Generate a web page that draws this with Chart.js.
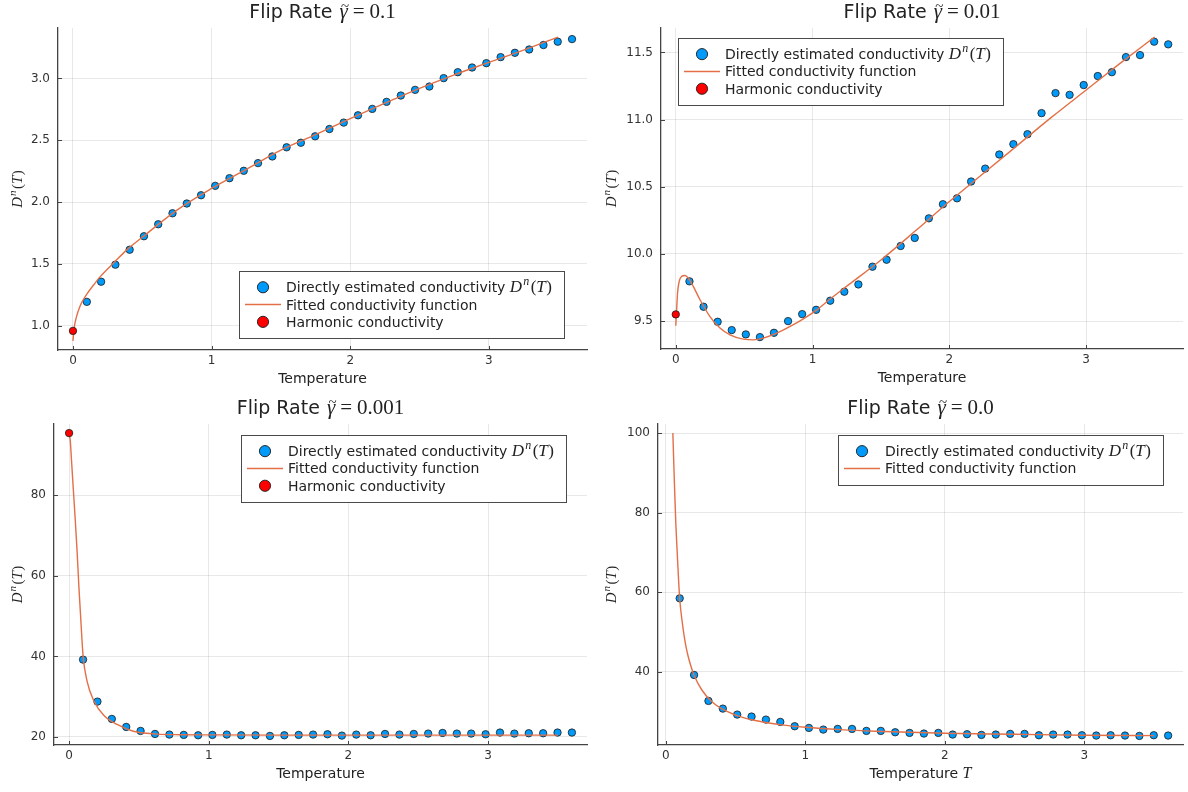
<!DOCTYPE html>
<html lang="en">
<head>
<meta charset="UTF-8">
<title>Conductivity vs temperature for four flip rates</title>
<script src="https://cdn.jsdelivr.net/npm/chart.js"></script>
<style>
  body { margin: 0; background: #fff; }
  .grid {
    display: grid;
    grid-template-columns: 594px 594px;
    grid-template-rows: 396px 396px;
    width: 1188px;
    height: 792px;
  }
  .grid canvas { display: block; }
</style>
</head>
<body>
<div class="grid">
  <canvas id="c1" width="594" height="396"></canvas>
  <canvas id="c2" width="594" height="396"></canvas>
  <canvas id="c3" width="594" height="396"></canvas>
  <canvas id="c4" width="594" height="396"></canvas>
</div>

<script>
// temperatures of the directly estimated points (same in every panel)
const temps = [0.1, 0.203, 0.306, 0.409, 0.512, 0.615, 0.718, 0.821, 0.924, 1.026,
  1.129, 1.232, 1.335, 1.438, 1.541, 1.644, 1.747, 1.85, 1.953, 2.056,
  2.159, 2.262, 2.365, 2.468, 2.571, 2.674, 2.776, 2.879, 2.982, 3.085,
  3.188, 3.291, 3.394, 3.497, 3.6];
const harmonicT = [0];
const xTicks = [0, 1, 2, 3];
const xTickLabels = ['0', '1', '2', '3'];

// flip rate 0.1
const direct01 = [1.192, 1.355, 1.493, 1.614, 1.723, 1.820, 1.909, 1.988, 2.055, 2.131,
  2.193, 2.253, 2.315, 2.369, 2.443, 2.480, 2.532, 2.591, 2.643, 2.702,
  2.754, 2.811, 2.862, 2.908, 2.935, 3.003, 3.051, 3.089, 3.124, 3.173,
  3.208, 3.235, 3.271, 3.298, 3.319];
const harmonic01 = [0.957];
const fitT01 = [0, 0.01, 0.025, 0.05, 0.075, 0.1, 0.15, 0.2, 0.3, 0.4, 0.5, 0.75,
  1.0, 1.25, 1.5, 1.75, 2.0, 2.25, 2.5, 2.75, 3.0, 3.25, 3.5];
const fit01 = [0.876, 0.99, 1.07, 1.155, 1.21, 1.255, 1.33, 1.40, 1.515, 1.625, 1.715, 1.935,
  2.11, 2.265, 2.42, 2.545, 2.675, 2.80, 2.92, 3.03, 3.13, 3.23, 3.335];
const yTicks01 = [1.0, 1.5, 2.0, 2.5, 3.0];
const yTickLabels01 = ['1.0', '1.5', '2.0', '2.5', '3.0'];

// flip rate 0.01
const direct001 = [9.796, 9.607, 9.495, 9.433, 9.401, 9.381, 9.413, 9.500, 9.552, 9.584,
  9.652, 9.719, 9.773, 9.905, 9.957, 10.059, 10.119, 10.265, 10.370, 10.414,
  10.539, 10.635, 10.740, 10.817, 10.891, 11.048, 11.197, 11.184, 11.257, 11.324,
  11.353, 11.465, 11.480, 11.580, 11.560];
const harmonic001 = [9.550];
const fitT001 = [0, 0.005, 0.013, 0.025, 0.043, 0.067, 0.091, 0.128, 0.177, 0.25,
  0.323, 0.396, 0.494, 0.567, 0.64, 0.738, 0.836, 0.933, 1.031, 1.128,
  1.25, 1.5, 1.75, 2.0, 2.25, 2.5, 2.75, 3.0, 3.25, 3.5];
const fit001 = [9.465, 9.56, 9.709, 9.796, 9.833, 9.84, 9.821, 9.758, 9.659, 9.534,
  9.448, 9.398, 9.366, 9.36, 9.373, 9.41, 9.46, 9.517, 9.584, 9.664,
  9.76, 9.955, 10.17, 10.39, 10.60, 10.81, 11.02, 11.22, 11.42, 11.614];
const yTicks001 = [9.5, 10.0, 10.5, 11.0, 11.5];
const yTickLabels001 = ['9.5', '10.0', '10.5', '11.0', '11.5'];

// flip rate 0.001
const direct0001 = [39.20, 28.77, 24.47, 22.48, 21.49, 20.74, 20.58, 20.50, 20.41, 20.50,
  20.58, 20.41, 20.41, 20.25, 20.41, 20.50, 20.58, 20.66, 20.33, 20.58,
  20.41, 20.74, 20.58, 20.74, 20.83, 20.99, 20.83, 20.83, 20.66, 21.08,
  20.83, 20.91, 20.91, 21.08, 21.08];
const harmonic0001 = [95.47];
const fitT0001 = [0, 0.008, 0.017, 0.029, 0.044, 0.058, 0.07, 0.084, 0.1, 0.129,
  0.177, 0.248, 0.344, 0.46, 0.63, 0.8, 1.0, 1.5, 2.0, 2.5, 3.0, 3.5];
const fit0001 = [94.8, 93.8, 88.9, 82.2, 74.0, 65.7, 57.4, 49.1, 40.2, 33.8,
  29.0, 25.4, 23.1, 21.4, 20.7, 20.55, 20.5, 20.45, 20.45, 20.45, 20.45, 20.45];
const yTicks0001 = [20, 40, 60, 80];
const yTickLabels0001 = ['20', '40', '60', '80'];

// flip rate 0.0 (no harmonic point)
const direct00 = [58.49, 39.25, 32.72, 30.79, 29.29, 28.79, 28.03, 27.45, 26.36, 25.94,
  25.52, 25.69, 25.69, 25.19, 25.19, 24.85, 24.69, 24.52, 24.69, 24.27,
  24.35, 24.18, 24.27, 24.44, 24.44, 24.10, 24.27, 24.27, 24.10, 24.02,
  24.10, 24.02, 23.93, 24.10, 24.02];
const fitT00 = [0.051, 0.058, 0.065, 0.072, 0.08, 0.09, 0.1, 0.12, 0.14, 0.16,
  0.18, 0.206, 0.26, 0.331, 0.403, 0.522, 0.641, 0.832, 1.0, 1.25,
  1.5, 2.0, 2.5, 3.0, 3.5];
const fit00 = [100, 92, 84.5, 77.5, 71.5, 64.5, 58.4, 52.0, 47.3, 44.0,
  41.5, 38.9, 35.4, 32.5, 30.7, 28.9, 27.8, 26.7, 26.1, 25.5,
  25.1, 24.6, 24.35, 24.1, 24.0];
const yTicks00 = [40, 60, 80, 100];
const yTickLabels00 = ['40', '60', '80', '100'];

const SANS = '"DejaVu Sans", sans-serif';
const SERIF = '"Liberation Serif", "DejaVu Serif", serif';
const TEXT = '#222';
const AXIS = '#444';

const panels = [
  { id: 'c1', gamma: '0.1', direct: direct01, harmonic: harmonic01, fitT: fitT01, fit: fit01,
    yTicks: yTicks01, yLabels: yTickLabels01, xMath: false,
    area: { left: 58, top: 28, right: 587, bottom: 350 }, legend: { corner: 'br', dx: 23, dy: 12 } },
  { id: 'c2', gamma: '0.01', direct: direct001, harmonic: harmonic001, fitT: fitT001, fit: fit001,
    yTicks: yTicks001, yLabels: yTickLabels001, xMath: false,
    area: { left: 67, top: 28, right: 589, bottom: 349 }, legend: { corner: 'tl', dx: 17, dy: 10 } },
  { id: 'c3', gamma: '0.001', direct: direct0001, harmonic: harmonic0001, fitT: fitT0001, fit: fit0001,
    yTicks: yTicks0001, yLabels: yTickLabels0001, xMath: false,
    area: { left: 54, top: 28, right: 587, bottom: 349 }, legend: { corner: 'tr', dx: 21, dy: 11 } },
  { id: 'c4', gamma: '0.0', direct: direct00, harmonic: null, fitT: fitT00, fit: fit00,
    yTicks: yTicks00, yLabels: yTickLabels00, xMath: true,
    area: { left: 64, top: 28, right: 589, bottom: 349 }, legend: { corner: 'tr', dx: 20, dy: 11 } }
];

// pieces of text with their own fonts, drawn one after another
function drawRich(ctx, pieces, x, y, center) {
  let w = 0;
  pieces.forEach(p => { ctx.font = p.f; p.w = ctx.measureText(p.t).width; w += p.w + (p.gap || 0); });
  let cx = center ? x - w / 2 : x;
  ctx.textAlign = 'left';
  ctx.textBaseline = 'alphabetic';
  pieces.forEach(p => {
    ctx.font = p.f;
    ctx.fillText(p.t, cx, y + (p.dy || 0));
    if (p.accent) {
      ctx.font = p.af;
      ctx.textAlign = 'center';
      ctx.fillText(p.accent, cx + p.w / 2 + 1.5, y + p.ady);
      ctx.textAlign = 'left';
    }
    cx += p.w + (p.gap || 0);
  });
  return w;
}
function richWidth(ctx, pieces) {
  let w = 0;
  pieces.forEach(p => { ctx.font = p.f; w += ctx.measureText(p.t).width + (p.gap || 0); });
  return w;
}
// D^n(T)
function dnt(size) {
  const it = `italic ${size}px ${SERIF}`, up = `${size}px ${SERIF}`;
  return [
    { t: 'D', f: it, gap: 1 },
    { t: 'n', f: `italic ${Math.round(size * 0.7)}px ${SERIF}`, dy: -size * 0.42, gap: 1.5 },
    { t: '(', f: up }, { t: 'T', f: it, gap: 0.5 }, { t: ')', f: up }
  ];
}
function legendPieces(ds) {
  const base = [{ t: ds.label, f: `14px ${SANS}` }];
  if (ds.withSymbol) { base[0].t += ' '; return base.concat(dnt(17)); }
  return base;
}

const plotsDecor = {
  id: 'plotsDecor',
  afterDraw(chart, args, opts) {
    const ctx = chart.ctx, a = chart.chartArea;
    const xs = chart.scales.x, ys = chart.scales.y;
    ctx.save();
    // small inward tick marks
    ctx.strokeStyle = AXIS;
    ctx.lineWidth = 1;
    ctx.beginPath();
    xs.ticks.forEach(t => { const px = Math.round(xs.getPixelForValue(t.value)) + 0.5; ctx.moveTo(px, a.bottom); ctx.lineTo(px, a.bottom - 4); });
    ys.ticks.forEach(t => { const py = Math.round(ys.getPixelForValue(t.value)) + 0.5; ctx.moveTo(a.left, py); ctx.lineTo(a.left + 4, py); });
    ctx.stroke();

    ctx.fillStyle = TEXT;
    // title
    drawRich(ctx, [
      { t: 'Flip Rate ', f: `19px ${SANS}`, gap: 1 },
      { t: 'γ', f: `italic 21px ${SERIF}`, accent: '~', af: `15px ${SERIF}`, ady: -7, gap: 5 },
      { t: '=', f: `21px ${SERIF}`, gap: 5 },
      { t: opts.gamma, f: `21px ${SERIF}` }
    ], (a.left + a.right) / 2, 18, true);
    // x axis title
    const xt = [{ t: 'Temperature', f: `14px ${SANS}` }];
    if (opts.xMath) { xt[0].t += ' '; xt.push({ t: 'T', f: `italic 16px ${SERIF}` }); }
    drawRich(ctx, xt, (a.left + a.right) / 2, a.bottom + 33, true);
    // y axis title
    ctx.save();
    ctx.translate(22, (a.top + a.bottom) / 2);
    ctx.rotate(-Math.PI / 2);
    drawRich(ctx, dnt(15), 0, 0, true);
    ctx.restore();

    // legend box inside the plot area
    const items = chart.data.datasets;
    const rowH = 17.3, padV = 7.5;
    const textW = Math.max(...items.map(d => richWidth(ctx, legendPieces(d))));
    const w = Math.max(opts.minWidth, 47 + textW + 7);
    const h = items.length * rowH + 2 * padV;
    const lg = opts.legend;
    const left = lg.corner.includes('r') ? a.right - lg.dx - w : a.left + lg.dx;
    const top = lg.corner.includes('b') ? a.bottom - lg.dy - h : a.top + lg.dy;
    ctx.fillStyle = '#fff';
    ctx.fillRect(left, top, w, h);
    ctx.strokeStyle = '#4a4a4a';
    ctx.lineWidth = 1;
    ctx.strokeRect(Math.round(left) + 0.5, Math.round(top) + 0.5, Math.round(w), Math.round(h));
    items.forEach((d, i) => {
      const cy = top + padV + rowH * (i + 0.5);
      if (d.type === 'line') {
        ctx.strokeStyle = d.borderColor;
        ctx.lineWidth = 1.5;
        ctx.beginPath(); ctx.moveTo(left + 6, cy); ctx.lineTo(left + 42, cy); ctx.stroke();
      } else {
        ctx.beginPath(); ctx.arc(left + 24, cy, 5.6, 0, Math.PI * 2);
        ctx.fillStyle = d.backgroundColor; ctx.fill();
        ctx.strokeStyle = '#1a1a1a'; ctx.lineWidth = 0.9; ctx.stroke();
      }
      ctx.fillStyle = TEXT;
      drawRich(ctx, legendPieces(d), left + 47, cy + 5, false);
    });
    ctx.restore();
  }
};

function toPoints(xv, yv) { return xv.map((x, i) => ({ x: x, y: yv[i] })); }

// Plots-style limits: data range widened by 3% on each side
function lims(values) {
  const lo = Math.min(...values), hi = Math.max(...values), r = hi - lo;
  return [lo - 0.03 * r, hi + 0.03 * r];
}

panels.forEach(p => {
  const datasets = [
    { label: 'Directly estimated conductivity', withSymbol: true, type: 'scatter',
      data: toPoints(temps, p.direct), backgroundColor: '#009AFA', borderColor: '#1a1a1a',
      borderWidth: 0.8, pointRadius: 3.7, order: 3 },
    { label: 'Fitted conductivity function', type: 'line', data: toPoints(p.fitT, p.fit),
      borderColor: '#E36F47', borderWidth: 1.4, pointRadius: 0, fill: false,
      cubicInterpolationMode: 'monotone', order: 2 }
  ];
  if (p.harmonic) {
    datasets.push({ label: 'Harmonic conductivity', type: 'scatter', data: toPoints(harmonicT, p.harmonic),
      backgroundColor: '#FF0000', borderColor: '#1a1a1a', borderWidth: 0.8, pointRadius: 3.7, order: 1 });
  }
  const allX = temps.concat(p.fitT, p.harmonic ? harmonicT : []);
  const allY = p.direct.concat(p.fit, p.harmonic || []);
  const [xMin, xMax] = lims(allX);
  const [yMin, yMax] = lims(allY);
  const area = p.area;

  new Chart(document.getElementById(p.id), {
    type: 'scatter',
    data: { datasets: datasets },
    options: {
      responsive: false,
      animation: false,
      devicePixelRatio: 1,
      events: [],
      layout: { padding: { left: 0, top: area.top, right: 594 - area.right, bottom: 0 } },
      plugins: {
        legend: { display: false },
        tooltip: { enabled: false },
        plotsDecor: { gamma: p.gamma, xMath: p.xMath, legend: p.legend, minWidth: 325 }
      },
      scales: {
        x: {
          type: 'linear', min: xMin, max: xMax,
          afterBuildTicks: s => { s.ticks = xTicks.map(v => ({ value: v })); },
          afterFit: s => { s.height = 396 - area.bottom; },
          ticks: { callback: (v, i) => xTickLabels[i], font: { family: SANS, size: 12 }, color: '#333', padding: 4, maxRotation: 0, autoSkip: false },
          grid: { color: 'rgba(0,0,0,0.09)', lineWidth: 1, drawTicks: false },
          border: { color: AXIS, width: 1.3 }
        },
        y: {
          type: 'linear', min: yMin, max: yMax,
          afterBuildTicks: s => { s.ticks = p.yTicks.map(v => ({ value: v })); },
          afterFit: s => { s.width = area.left; },
          ticks: { callback: (v, i) => p.yLabels[i], font: { family: SANS, size: 12 }, color: '#333', padding: 8, autoSkip: false },
          grid: { color: 'rgba(0,0,0,0.09)', lineWidth: 1, drawTicks: false },
          border: { color: AXIS, width: 1.3 }
        }
      }
    },
    plugins: [plotsDecor]
  });
});
</script>
</body>
</html>
